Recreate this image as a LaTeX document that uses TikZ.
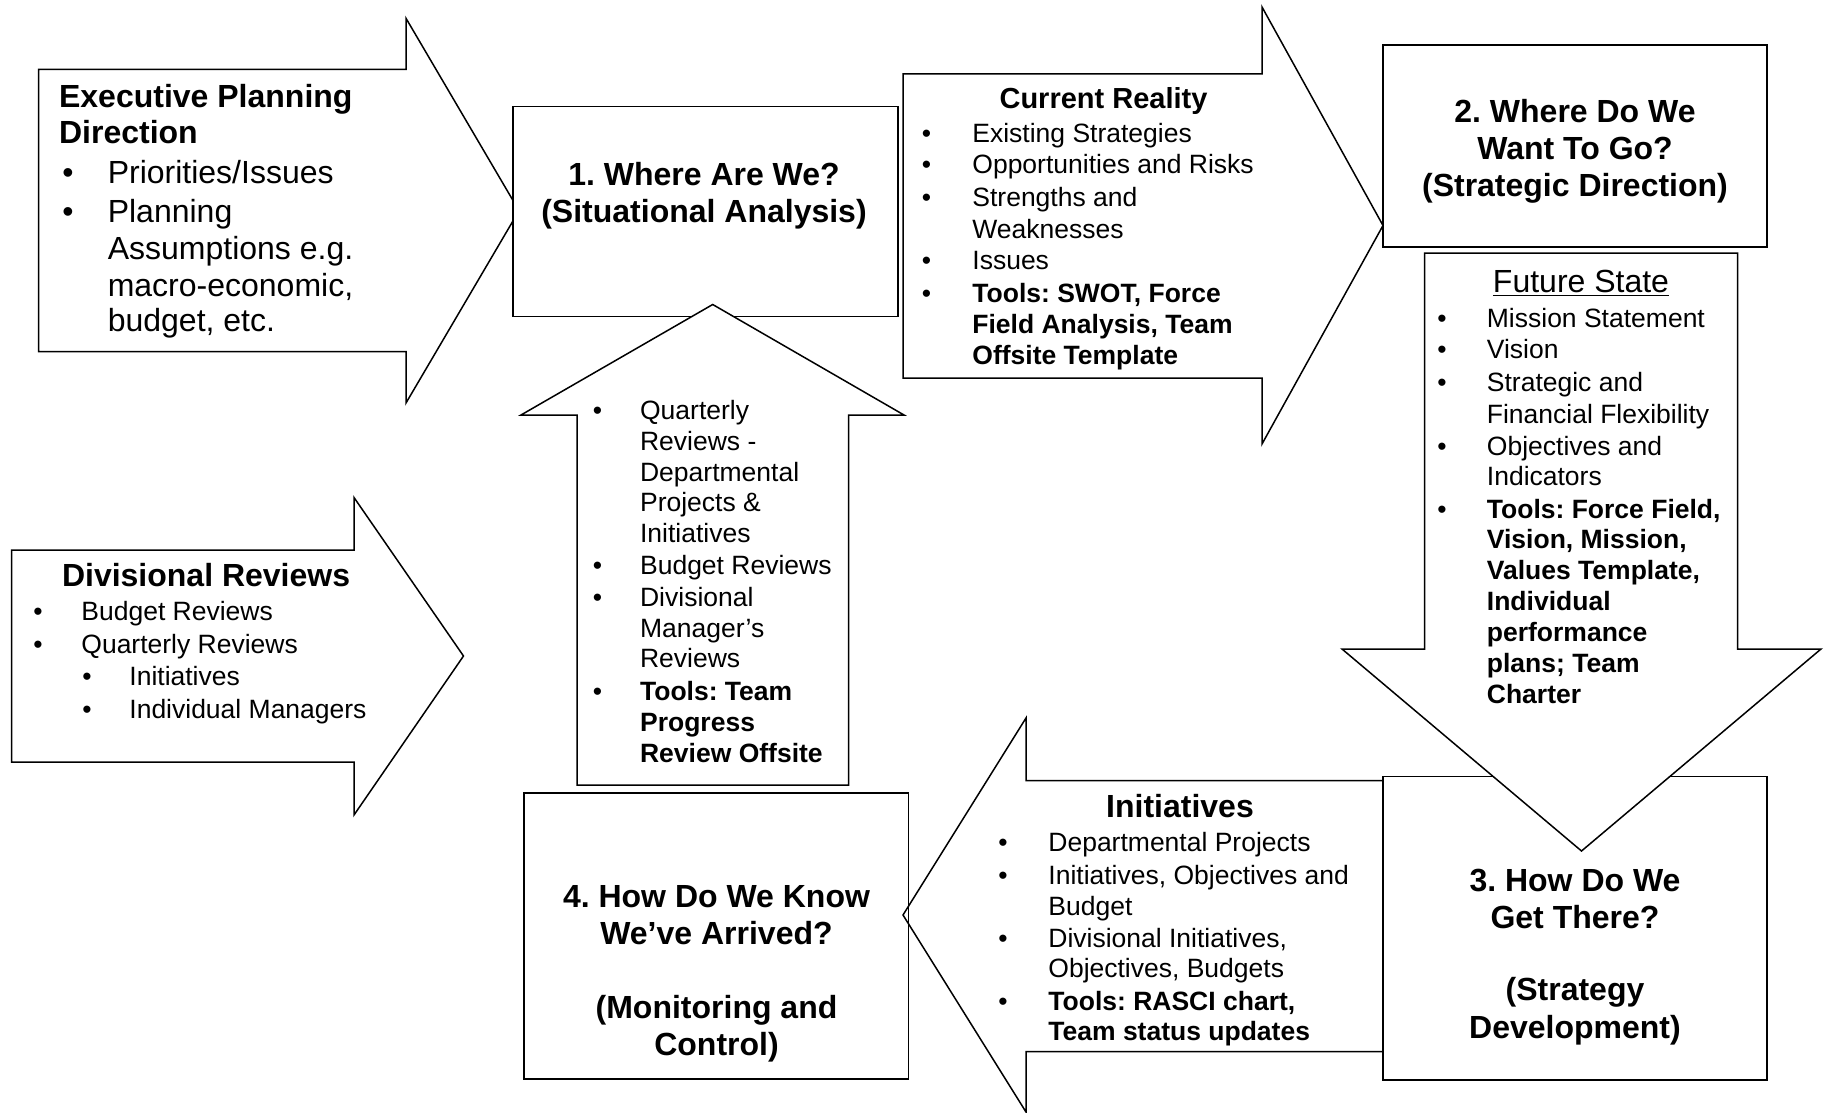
\documentclass[tikz,border=0pt]{standalone}
\usepackage{fontspec}
\setmainfont{Liberation Sans}
\frenchspacing
\newcommand\Ln[4]{\node[txt] (#1) at (#2,#3) {#4};}
\newcommand\Ct[4]{\node[ctr] (#1) at (#2,#3) {#4};}
\newcommand\Bu[3]{\node[bul] (#1) at (#2,#3) {\textbullet};}
\begin{document}
\frenchspacing
\begin{tikzpicture}[x=0.5pt,y=-0.5pt,
  shp/.style={draw=black, line width=0.75pt, line join=miter, fill=white},
  boxe/.style={draw=black, line width=0.75pt},
  txt/.style={inner sep=0pt, anchor=base west},
  ctr/.style={inner sep=0pt, anchor=base},
  bul/.style={inner sep=0pt, anchor=base},
  big/.style={font=\fontsize{16}{18.5}\selectfont},
  bigb/.style={font=\fontsize{16}{18.5}\selectfont\bfseries},
  body/.style={font=\fontsize{13.25}{15.5}\selectfont},
  bodyb/.style={font=\fontsize{13.25}{15.5}\selectfont\bfseries},
  headb/.style={font=\fontsize{14.5}{16}\selectfont\bfseries}]
\useasboundingbox (0,0) rectangle (1826,1113);
\fill[white] (0,0) rectangle (1826,1113);

% ---------- shapes ----------
% Executive Planning arrow
\draw[shp] (38.7,69.3) -- (406,69.3) -- (406,18.3) -- (519,210.7) -- (406,403) -- (406,351.7) -- (38.7,351.7) -- cycle;
% box 1
\draw[shp] (513,106.5) rectangle (898,316.7);
% Current Reality arrow
\draw[shp] (903,74) -- (1262,74) -- (1262,7) -- (1383,225.5) -- (1262,444) -- (1262,378) -- (903,378) -- cycle;
% box 2
\draw[shp] (1383,45) rectangle (1767,247);
% Initiatives arrow (pointing left)
\draw[shp] (1400,780.5) -- (1026,780.5) -- (1026,718) -- (903,915) -- (1026,1112) -- (1026,1051.5) -- (1400,1051.5);
% box 3
\draw[shp] (1383,776.5) rectangle (1767,1080);
% Future State arrow (pointing down)
\draw[shp] (1424.5,253) -- (1737.6,253) -- (1737.6,649) -- (1821,649) -- (1581.5,851) -- (1342,649) -- (1424.5,649) -- cycle;
% Divisional Reviews arrow
\draw[shp] (11.7,550) -- (354,550) -- (354,497.5) -- (463.5,656) -- (354,815) -- (354,762) -- (11.7,762) -- cycle;
% up arrow
\draw[shp] (577,785) -- (577,415) -- (521,415) -- (712.7,304.5) -- (904,415) -- (848.5,415) -- (848.5,785) -- cycle;
% box 4
\draw[boxe] (524,793) rectangle (908.5,1079);

% ---------- Executive Planning Direction ----------
\begin{scope}[bigb]
\Ln{ex1}{58.7}{107.5}{Executive Planning}
\Ln{ex2}{58.7}{144}{Direction}
\end{scope}
\begin{scope}[big]
\Bu{exb1}{68}{183.5}
\Ln{ex3}{107.4}{183.5}{Priorities/Issues}
\Bu{exb2}{68}{222}
\Ln{ex4}{107.4}{222}{Planning}
\Ln{ex5}{107.4}{259}{Assumptions e.g.}
\Ln{ex6}{107.4}{296}{macro-economic,}
\Ln{ex7}{107.4}{331.5}{budget, etc.}
\end{scope}

% ---------- box 1 ----------
\begin{scope}[bigb]
\Ct{b1a}{704}{185}{1. Where Are We?}
\Ct{b1b}{704}{222}{(Situational Analysis)}
\end{scope}

% ---------- Current Reality ----------
\begin{scope}[headb]
\Ct{cr0}{1103.5}{109}{Current Reality}
\end{scope}
\begin{scope}[body]
\Bu{crb1}{926.6}{142}
\Ln{cr1}{972}{142}{Existing Strategies}
\Bu{crb2}{926.6}{174}
\Ln{cr2}{972}{174}{Opportunities and Risks}
\Bu{crb3}{926.6}{206.5}
\Ln{cr3}{972}{206.5}{Strengths and}
\Ln{cr4}{972}{238}{Weaknesses}
\Bu{crb4}{926.6}{269.5}
\Ln{cr5}{972}{269.5}{Issues}
\Bu{crb5}{926.6}{302.5}
\end{scope}
\begin{scope}[bodyb]
\Ln{cr6}{972}{302.5}{Tools: SWOT, Force}
\Ln{cr7}{972}{333}{Field Analysis, Team}
\Ln{cr8}{972}{364}{Offsite Template}
\end{scope}

% ---------- box 2 ----------
\begin{scope}[bigb]
\Ct{b2a}{1575}{122.5}{2. Where Do We}
\Ct{b2b}{1575}{159.5}{Want To Go?}
\Ct{b2c}{1575}{196.5}{(Strategic Direction)}
\end{scope}

% ---------- Future State ----------
\begin{scope}[big]
\Ct{fs0}{1581}{292.5}{\underline{Future State}}
\end{scope}
\begin{scope}[body]
\Bu{fsb1}{1442}{327}
\Ln{fs1}{1486.5}{327}{Mission Statement}
\Bu{fsb2}{1442}{358.5}
\Ln{fs2}{1486.5}{358.5}{Vision}
\Bu{fsb3}{1442}{391.5}
\Ln{fs3}{1486.5}{391.5}{Strategic and}
\Ln{fs4}{1486.5}{423}{Financial Flexibility}
\Bu{fsb4}{1442}{455.5}
\Ln{fs5}{1486.5}{455.5}{Objectives and}
\Ln{fs6}{1486.5}{485.5}{Indicators}
\Bu{fsb5}{1442}{518}
\end{scope}
\begin{scope}[bodyb]
\Ln{fs7}{1486.5}{518}{Tools: Force Field,}
\Ln{fs8}{1486.5}{548.5}{Vision, Mission,}
\Ln{fs9}{1486.5}{579.5}{Values Template,}
\Ln{fs10}{1486.5}{610.5}{Individual}
\Ln{fs11}{1486.5}{641}{performance}
\Ln{fs12}{1486.5}{672}{plans; Team}
\Ln{fs13}{1486.5}{703}{Charter}
\end{scope}

% ---------- Divisional Reviews ----------
\begin{scope}[bigb]
\Ln{dv0}{61.6}{586.5}{Divisional Reviews}
\end{scope}
\begin{scope}[body]
\Bu{dvb1}{38}{620.5}
\Ln{dv1}{81}{620.5}{Budget Reviews}
\Bu{dvb2}{38}{653}
\Ln{dv2}{81}{653}{Quarterly Reviews}
\Bu{dvb3}{87}{685.5}
\Ln{dv3}{129}{685.5}{Initiatives}
\Bu{dvb4}{87}{718.5}
\Ln{dv4}{129}{718.5}{Individual Managers}
\end{scope}

% ---------- up arrow text ----------
\begin{scope}[body]
\Bu{upb1}{597.4}{419.6}
\Ln{up1}{639.7}{419.6}{Quarterly}
\Ln{up2}{639.7}{450.5}{Reviews -}
\Ln{up3}{639.7}{481.5}{Departmental}
\Ln{up4}{639.7}{511.7}{Projects \&}
\Ln{up5}{639.7}{542.3}{Initiatives}
\Bu{upb2}{597.4}{574}
\Ln{up6}{639.7}{574}{Budget Reviews}
\Bu{upb3}{597.4}{606}
\Ln{up7}{639.7}{606}{Divisional}
\Ln{up8}{639.7}{637.6}{Manager’s}
\Ln{up9}{639.7}{667.8}{Reviews}
\Bu{upb4}{597.4}{700.7}
\end{scope}
\begin{scope}[bodyb]
\Ln{up10}{639.7}{700.7}{Tools: Team}
\Ln{up11}{639.7}{731.5}{Progress}
\Ln{up12}{639.7}{762}{Review Offsite}
\end{scope}

% ---------- Initiatives ----------
\begin{scope}[bigb]
\Ct{in0}{1180}{817.6}{Initiatives}
\end{scope}
\begin{scope}[body]
\Bu{inb1}{1003}{851.8}
\Ln{in1}{1048}{851.8}{Departmental Projects}
\Bu{inb2}{1003}{884.4}
\Ln{in2}{1048}{884.4}{Initiatives, Objectives and}
\Ln{in3}{1048}{915}{Budget}
\Bu{inb3}{1003}{947.5}
\Ln{in4}{1048}{947.5}{Divisional Initiatives,}
\Ln{in5}{1048}{977.7}{Objectives, Budgets}
\Bu{inb4}{1003}{1010.6}
\end{scope}
\begin{scope}[bodyb]
\Ln{in6}{1048}{1010.6}{Tools: RASCI chart,}
\Ln{in7}{1048}{1040.4}{Team status updates}
\end{scope}

% ---------- box 3 ----------
\begin{scope}[bigb]
\Ct{b3a}{1575}{891}{3. How Do We}
\Ct{b3b}{1575}{928}{Get There?}
\Ct{b3c}{1575}{1000.5}{(Strategy}
\Ct{b3d}{1575}{1038}{Development)}
\end{scope}

% ---------- box 4 ----------
\begin{scope}[bigb]
\Ct{b4a}{716.5}{907}{4. How Do We Know}
\Ct{b4b}{716.5}{944}{We’ve Arrived?}
\Ct{b4c}{716.5}{1018}{(Monitoring and}
\Ct{b4d}{716.5}{1055}{Control)}
\end{scope}
\end{tikzpicture}
\end{document}
